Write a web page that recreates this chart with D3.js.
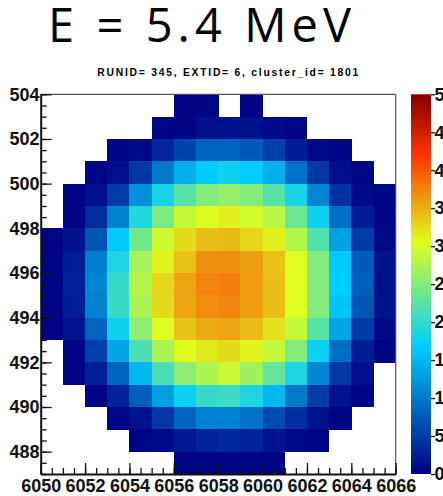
<!DOCTYPE html>
<html>
<head>
<meta charset="utf-8">
<script src="https://cdn.jsdelivr.net/npm/d3@7"></script>
<style>
  html, body { margin: 0; padding: 0; background: #fff; }
  svg { display: block; }
</style>
</head>
<body>
<script>
// ---- data -------------------------------------------------------------
const titleText = "E = 5.4 MeV";
const subtitleText = "RUNID= 345, EXTID= 6, cluster_id= 1801";

// lower edges of the pixel bins
const xBins = d3.range(6050, 6066);          // 6050 ... 6065
const yBins = d3.range(503, 486, -1);        // 503 ... 487 (top row first)

// charge per pixel, one row per y bin (top to bottom), one column per x bin
const row503 = [0, 0, 0, 0, 0, 0, 0.5, 0.5, 0, 0.5, 0, 0, 0, 0, 0, 0];
const row502 = [0, 0, 0, 0, 0, 0.4, 0.6, 1.2, 1.6, 1.6, 0.9, 0.4, 0, 0, 0, 0];
const row501 = [0, 0, 0, 0.4, 0.8, 3.0, 5.7, 8.2, 8.2, 7.4, 5.3, 2.5, 0.8, 0.4, 0, 0];
const row500 = [0, 0, 0.4, 1.2, 4.5, 9.9, 14.4, 16.8, 17.9, 16.8, 14.4, 9.4, 4.5, 1.2, 0.4, 0];
const row499 = [0, 0.4, 1.2, 4.9, 11.9, 18.5, 22.2, 24.9, 26.1, 24.9, 22.2, 18.5, 11.1, 4.1, 0.8, 0.4];
const row498 = [0, 0.6, 3.7, 10.7, 19.1, 24.6, 28.9, 30.4, 31.3, 29.8, 28.2, 23.7, 17.9, 9.0, 2.5, 0.5];
const row497 = [0.4, 1.6, 7.0, 16.6, 24.0, 29.5, 32.5, 34.2, 34.4, 32.8, 31.3, 27.9, 21.9, 13.1, 4.9, 0.8];
const row496 = [0.4, 2.5, 10.3, 18.8, 27.0, 31.1, 33.9, 36.7, 36.7, 35.9, 33.9, 30.5, 24.9, 16.4, 7.4, 1.6];
const row495 = [0.4, 2.9, 11.1, 20.3, 27.9, 32.8, 35.6, 37.5, 37.8, 35.9, 34.2, 30.5, 24.9, 16.8, 7.8, 1.4];
const row494 = [0.4, 2.5, 10.7, 20.3, 27.3, 32.5, 35.6, 37.0, 37.3, 35.9, 34.2, 30.5, 24.9, 16.0, 7.0, 1.6];
const row493 = [0.4, 1.6, 8.2, 17.9, 25.5, 30.5, 33.9, 35.3, 35.6, 34.2, 32.2, 28.9, 22.2, 13.6, 4.9, 0.8];
const row492 = [0, 0.5, 5.3, 13.6, 21.6, 27.3, 30.6, 31.6, 32.5, 31.1, 28.9, 24.9, 17.6, 9.0, 2.5, 0.4];
const row491 = [0, 0.4, 2.5, 8.2, 15.2, 21.6, 25.5, 27.6, 29.2, 26.7, 23.1, 18.8, 11.1, 4.5, 1.2, 0];
const row490 = [0, 0, 0.4, 2.9, 7.8, 13.1, 17.6, 20.3, 20.6, 18.8, 15.2, 9.9, 4.9, 1.6, 0.4, 0];
const row489 = [0, 0, 0, 0.4, 1.6, 4.5, 8.2, 10.7, 10.7, 9.4, 6.2, 3.7, 1.6, 0.4, 0, 0];
const row488 = [0, 0, 0, 0, 0.4, 0.8, 2.0, 2.9, 3.3, 2.9, 1.6, 0.8, 0.4, 0, 0, 0];
const row487 = [0, 0, 0, 0, 0, 0, 0.4, 0.4, 0.4, 0.4, 0.4, 0, 0, 0, 0, 0];
const counts = [row503, row502, row501, row500, row499, row498, row497, row496,
                row495, row494, row493, row492, row491, row490, row489, row488, row487];

const xTickValues = d3.range(6050, 6067, 2);
const yTickValues = d3.range(488, 505, 2);
const zTickValues = d3.range(0, 51, 5);
const zRange = [0, 50];

// rainbow palette: stop positions and colours
const paletteStops = [0.00, 0.34, 0.61, 0.84, 1.00];
const paletteColors = ["#000082", "#00cfff", "#deff1f", "#ff3300", "#820000"];

// ---- layout -----------------------------------------------------------
const W = 443, H = 496;
const frame = { left: 40.7, right: 395.7, top: 94.3, bottom: 474 };
const bar = { left: 411, right: 431 };
const labelFont = "'Liberation Sans', Arial, Helvetica, sans-serif";

const svg = d3.select("body").append("svg")
  .attr("width", W).attr("height", H);

const x = d3.scaleLinear().domain([6050, 6066]).range([frame.left, frame.right]);
const y = d3.scaleLinear().domain([487, 504]).range([frame.bottom, frame.top]);
const z = d3.scaleLinear()
  .domain(paletteStops.map(s => zRange[0] + s * (zRange[1] - zRange[0])))
  .range(paletteColors)
  .clamp(true);

// ---- titles -------------------------------------------------------------
svg.append("text")
  .attr("x", 199.5).attr("y", 41.7)
  .attr("text-anchor", "middle")
  .attr("font-family", "'Open Sans', sans-serif")
  .attr("font-size", 47)
  .attr("textLength", 303)
  .attr("lengthAdjust", "spacing")
  .attr("fill", "#000")
  .text(titleText);

svg.append("text")
  .attr("x", 227.8).attr("y", 75.7)
  .attr("text-anchor", "middle")
  .attr("font-family", labelFont)
  .attr("font-weight", "bold")
  .attr("font-size", 10.3)
  .attr("textLength", 261)
  .attr("lengthAdjust", "spacing")
  .attr("fill", "#000")
  .text(subtitleText);

// ---- cells ----------------------------------------------------------------
const cells = [];
counts.forEach((row, i) => row.forEach((v, j) => {
  if (v > 0) cells.push({ x: xBins[j], y: yBins[i], v });
}));

svg.append("g").selectAll("rect")
  .data(cells)
  .join("rect")
  .attr("x", d => x(d.x))
  .attr("y", d => y(d.y + 1))
  .attr("width", d => x(d.x + 1) - x(d.x) + 0.3)
  .attr("height", d => y(d.y) - y(d.y + 1) + 0.3)
  .attr("fill", d => z(d.v))
  .attr("shape-rendering", "crispEdges");

// ---- frame ----------------------------------------------------------------
svg.append("line")
  .attr("x1", frame.left).attr("x2", frame.right)
  .attr("y1", frame.top).attr("y2", frame.top)
  .attr("stroke", "#555").attr("stroke-width", 1.2);
svg.append("line")
  .attr("x1", frame.right).attr("x2", frame.right)
  .attr("y1", frame.top).attr("y2", frame.bottom)
  .attr("stroke", "#555").attr("stroke-width", 1.2);

// ---- axes -----------------------------------------------------------------
function styleAxis(g) {
  g.select(".domain").attr("stroke", "#111").attr("stroke-width", 2);
  g.selectAll(".tick line").attr("stroke", "#111").attr("stroke-width", 1.3);
  g.selectAll(".tick text")
    .attr("font-family", labelFont)
    .attr("font-weight", "bold")
    .attr("font-size", 18)
    .attr("fill", "#111");
}

const xMinor = d3.range(6050, 6066.01, 0.5);
const yMinor = d3.range(487, 504.01, 0.5);

svg.append("g")
  .attr("transform", `translate(0,${frame.bottom})`)
  .call(d3.axisBottom(x).tickValues(xMinor).tickSize(-6).tickSizeOuter(0).tickFormat(""))
  .call(g => { g.select(".domain").remove(); g.selectAll(".tick line").attr("stroke", "#111").attr("stroke-width", 1.3); });

svg.append("g")
  .attr("transform", `translate(0,${frame.bottom})`)
  .call(d3.axisBottom(x).tickValues(xTickValues).tickSize(-11).tickSizeOuter(0)
        .tickPadding(18).tickFormat(d3.format("d")))
  .call(styleAxis)
  .call(g => g.selectAll(".tick text").attr("y", 17.6).attr("dy", 0));

svg.append("g")
  .attr("transform", `translate(${frame.left},0)`)
  .call(d3.axisLeft(y).tickValues(yMinor).tickSize(-6).tickSizeOuter(0).tickFormat(""))
  .call(g => { g.select(".domain").remove(); g.selectAll(".tick line").attr("stroke", "#111").attr("stroke-width", 1.3); });

svg.append("g")
  .attr("transform", `translate(${frame.left},0)`)
  .call(d3.axisLeft(y).tickValues(yTickValues).tickSize(-11).tickSizeOuter(0)
        .tickPadding(-9.7).tickFormat(d3.format("d")))
  .call(styleAxis)
  .call(g => g.selectAll(".tick text").attr("x", -1.2));

// ---- colour bar -----------------------------------------------------------
const defs = svg.append("defs");
const grad = defs.append("linearGradient")
  .attr("id", "palette")
  .attr("x1", 0).attr("x2", 0).attr("y1", 1).attr("y2", 0);
grad.selectAll("stop")
  .data(paletteStops)
  .join("stop")
  .attr("offset", d => d)
  .attr("stop-color", (d, i) => paletteColors[i]);

const zAxisScale = d3.scaleLinear().domain(zRange).range([frame.bottom, frame.top]);

svg.append("rect")
  .attr("x", bar.left).attr("y", frame.top)
  .attr("width", bar.right - bar.left)
  .attr("height", frame.bottom - frame.top)
  .attr("fill", "url(#palette)");

svg.append("g")
  .attr("transform", `translate(${bar.right},0)`)
  .call(d3.axisRight(zAxisScale).tickValues(zTickValues).tickSize(4).tickSizeOuter(0)
        .tickPadding(0).tickFormat(d3.format("d")))
  .call(styleAxis)
  .call(g => g.select(".domain").remove())
  .call(g => g.selectAll(".tick text").attr("x", 3.5));
</script>
</body>
</html>
